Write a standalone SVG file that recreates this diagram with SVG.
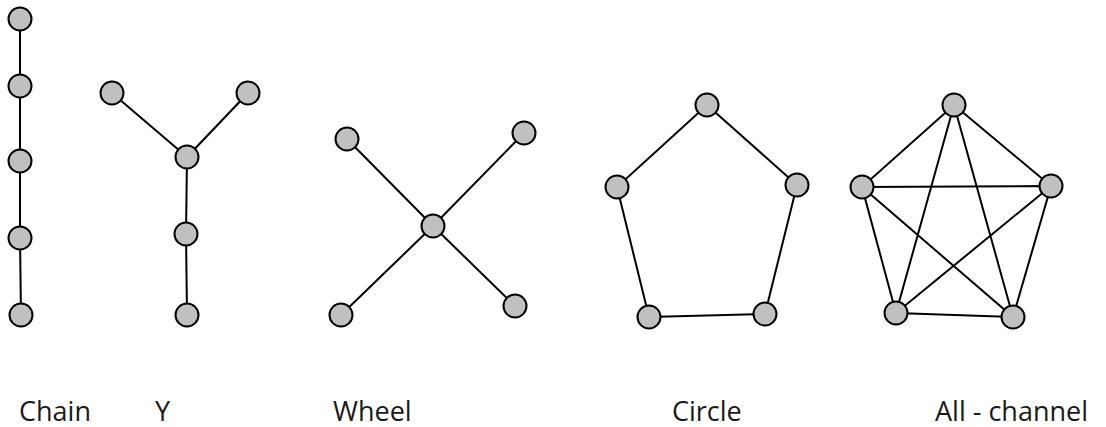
<svg xmlns="http://www.w3.org/2000/svg" width="1106" height="427" viewBox="0 0 1106 427">
<style>
.n{fill:#c0c0c0;stroke:#000;stroke-width:2}
.e{stroke:#000;stroke-width:2;fill:none}
.t{font-family:"Open Sans","Liberation Sans",sans-serif;font-size:27px;fill:#1a1a1a}
</style>
<rect width="1106" height="427" fill="#fff"/>
<g id="connectors">
<!-- chain -->
<line class="e" x1="20" y1="19" x2="20" y2="86"/>
<line class="e" x1="20" y1="86" x2="20" y2="161"/>
<line class="e" x1="20" y1="161" x2="20" y2="238"/>
<line class="e" x1="20" y1="238" x2="21" y2="315"/>
<!-- Y -->
<line class="e" x1="112" y1="93" x2="187" y2="157"/>
<line class="e" x1="248" y1="93" x2="187" y2="157"/>
<line class="e" x1="187" y1="157" x2="186" y2="234"/>
<line class="e" x1="186" y1="234" x2="187" y2="315"/>
<!-- wheel -->
<line class="e" x1="347" y1="139" x2="433" y2="226"/>
<line class="e" x1="524" y1="133" x2="433" y2="226"/>
<line class="e" x1="341" y1="315" x2="433" y2="226"/>
<line class="e" x1="515" y1="306" x2="433" y2="226"/>
<!-- circle -->
<polygon class="e" points="707,105 797,185 765,314 649,317 617,187"/>
<!-- all channel -->
<polygon class="e" points="954,105 1051,186 1013,317 896,313 862,187"/>
<polyline class="e" points="954,105 896,313 1051,186 862,187 1013,317 954,105"/>
</g>
<g id="chain">
<circle class="n" cx="20" cy="19" r="11.5"/>
<circle class="n" cx="20" cy="86" r="11.5"/>
<circle class="n" cx="20" cy="161" r="11.5"/>
<circle class="n" cx="20" cy="238" r="11.5"/>
<circle class="n" cx="21" cy="315" r="11.5"/>
<text class="t" x="19" y="421">Chain</text>
</g>
<g id="y">
<circle class="n" cx="112" cy="93" r="11.5"/>
<circle class="n" cx="248" cy="93" r="11.5"/>
<circle class="n" cx="187" cy="157" r="11.5"/>
<circle class="n" cx="186" cy="234" r="11.5"/>
<circle class="n" cx="187" cy="315" r="11.5"/>
<text class="t" x="155" y="421">Y</text>
</g>
<g id="wheel">
<circle class="n" cx="347" cy="139" r="11.5"/>
<circle class="n" cx="524" cy="133" r="11.5"/>
<circle class="n" cx="433" cy="226" r="11.5"/>
<circle class="n" cx="341" cy="315" r="11.5"/>
<circle class="n" cx="515" cy="306" r="11.5"/>
<text class="t" x="333" y="421">Wheel</text>
</g>
<g id="circle">
<circle class="n" cx="707" cy="105" r="11.5"/>
<circle class="n" cx="617" cy="187" r="11.5"/>
<circle class="n" cx="797" cy="185" r="11.5"/>
<circle class="n" cx="649" cy="317" r="11.5"/>
<circle class="n" cx="765" cy="314" r="11.5"/>
<text class="t" x="672" y="421">Circle</text>
</g>
<g id="all-channel">
<circle class="n" cx="954" cy="105" r="11.5"/>
<circle class="n" cx="862" cy="187" r="11.5"/>
<circle class="n" cx="1051" cy="186" r="11.5"/>
<circle class="n" cx="896" cy="313" r="11.5"/>
<circle class="n" cx="1013" cy="317" r="11.5"/>
<text class="t" x="935" y="421">All - channel</text>
</g>
</svg>
